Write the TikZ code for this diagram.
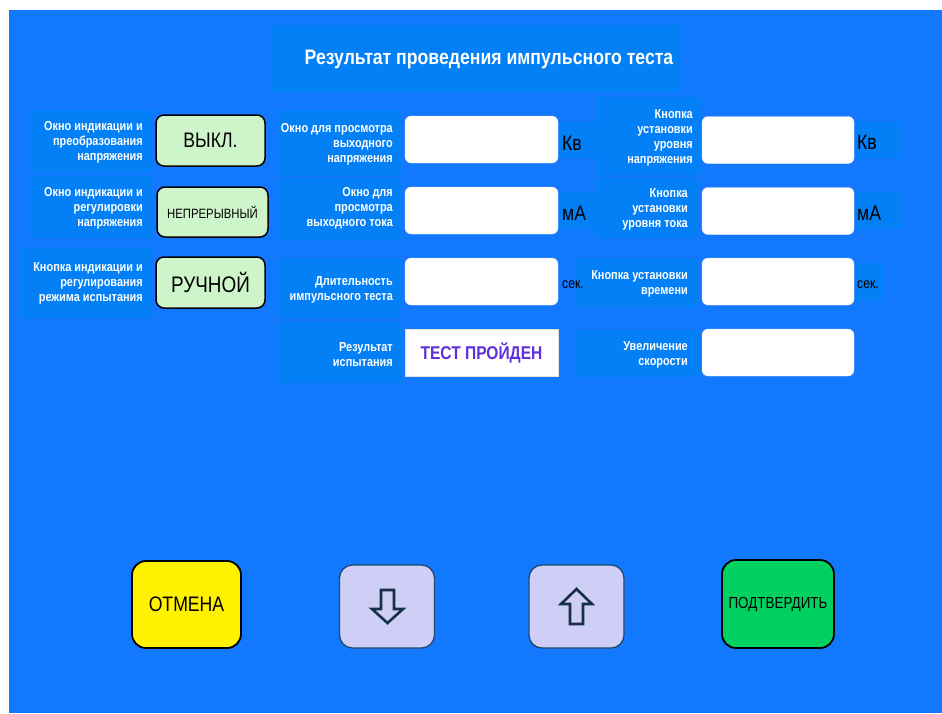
\documentclass[tikz,border=0pt]{standalone}
\usepackage{fontspec}
\setmainfont{Liberation Sans}[FakeStretch=0.84]
\definecolor{panelblue}{RGB}{18,121,255}
\definecolor{boxblue}{RGB}{3,128,246}
\definecolor{lightgreen}{RGB}{206,245,202}
\definecolor{lavender}{RGB}{206,206,246}
\definecolor{navyline}{RGB}{30,72,110}
\definecolor{arrowline}{RGB}{22,48,74}
\definecolor{okgreen}{RGB}{0,209,96}
\definecolor{passpurple}{RGB}{96,48,220}
\newcommand{\fsz}[2]{\fontsize{#1}{#2}\selectfont}
\begin{document}
\begin{tikzpicture}[x=1pt,y=-1pt,
  lbox/.style={fill=boxblue, draw=none, inner sep=0pt},
  lbl/.style={text=white, font=\bfseries\fsz{13}{15}, align=right, anchor=east, inner sep=0pt},
  wbox/.style={fill=white, draw=white!88!black, line width=0.4pt, rounded corners=6pt, inner sep=0pt, minimum width=153pt, minimum height=47pt},
  gbtn/.style={fill=lightgreen, draw=black, line width=1.5pt, rounded corners=8pt, inner sep=0pt},
  unit/.style={anchor=west, inner sep=0pt, text=black},
  bigbtn/.style={draw=black, line width=1.8pt, rounded corners=14pt, inner sep=0pt},
  arrbtn/.style={fill=lavender, draw=navyline, line width=1.3pt, rounded corners=13pt, inner sep=0pt, minimum width=95pt, minimum height=83pt},
  arrshape/.style={fill=lavender, draw=arrowline, line width=2.6pt, line join=miter}
]
\useasboundingbox (0,0) rectangle (942,713);
\fill[white] (0,0) rectangle (942,713);
\fill[panelblue] (9,10) rectangle (942,713);

% title
\node[lbox, minimum width=410pt, minimum height=67pt] (titlebox) at (477,58.5) {};
\node[text=white, font=\bfseries\fsz{21}{24}, inner sep=0pt] (title) at (489,59) {Результат проведения импульсного теста};

% left column
\node[lbox, minimum width=122pt, minimum height=63pt] (l1) at (91,141.5) {};
\node[lbl] (l1t) at (143,142) {Окно индикации и\\преобразования\\напряжения};
\node[lbox, minimum width=122pt, minimum height=62pt] (l2) at (91,207) {};
\node[lbl] (l2t) at (143,208) {Окно индикации и\\регулировки\\напряжения};
\node[lbox, minimum width=132pt, minimum height=70pt] (l3) at (86,283) {};
\node[lbl] (l3t) at (143,283) {Кнопка индикации и\\регулирования\\режима испытания};

\node[gbtn, minimum width=109pt, minimum height=51pt, font=\fsz{21}{24}] (g1) at (210.5,140.5) {ВЫКЛ.};
\node[gbtn, minimum width=111pt, minimum height=50pt, font=\fsz{13.5}{16}] (g2) at (212.5,212) {НЕПРЕРЫВНЫЙ};
\node[gbtn, minimum width=109pt, minimum height=51pt, font=\fsz{22.5}{26}] (g3) at (210.5,282.5) {РУЧНОЙ};

% middle column
\node[lbox, minimum width=124pt, minimum height=66pt] (m1) at (340,143) {};
\node[lbl] (m1t) at (393,144) {Окно для просмотра\\выходного\\напряжения};
\node[lbox, minimum width=124pt, minimum height=62pt] (m2) at (340,209) {};
\node[lbl] (m2t) at (393,208) {Окно для\\просмотра\\выходного тока};
\node[lbox, minimum width=124pt, minimum height=60pt] (m3) at (340,288) {};
\node[lbl] (m3t) at (393,289.5) {Длительность\\импульсного теста};
\node[lbox, minimum width=124pt, minimum height=61pt] (m4) at (340,352.5) {};
\node[lbl] (m4t) at (393,354.5) {Результат\\испытания};

\node[lbox, minimum width=37pt, minimum height=36pt] (mu1) at (576.5,140) {};
\node[lbox, minimum width=37pt, minimum height=37pt] (mu2) at (576.5,210.5) {};

\node[wbox] (w1) at (481.5,139.5) {};
\node[wbox] (w2) at (481.5,210.5) {};
\node[wbox] (w3) at (481.5,281.5) {};
\node[fill=white, draw=white!88!black, line width=0.4pt, inner sep=0pt, minimum width=153pt, minimum height=47pt, text=passpurple, font=\bfseries\fsz{18.5}{22}] (w4) at (481.5,352.5) {ТЕСТ ПРОЙДЕН};

% right column
\node[lbox, minimum width=107pt, minimum height=78pt] (r1) at (648.5,136) {};
\node[lbl] (r1t) at (693,138) {Кнопка\\установки\\уровня\\напряжения};
\node[lbox, minimum width=102pt, minimum height=60pt] (r2) at (646,208) {};
\node[lbl] (r2t) at (688,209.5) {Кнопка\\установки\\уровня тока};
\node[lbox, minimum width=123pt, minimum height=49pt] (r3) at (636.5,282.5) {};
\node[lbl] (r3t) at (688,283.5) {Кнопка установки\\времени};
\node[lbox, minimum width=125pt, minimum height=47pt] (r4) at (637.5,353.5) {};
\node[lbl] (r4t) at (688,355) {Увеличение\\скорости};

\node[wbox, minimum width=152pt] (x1) at (778,140) {};
\node[wbox, minimum width=152pt] (x2) at (778,211) {};
\node[wbox, minimum width=152pt] (x3) at (778,281.5) {};
\node[wbox, minimum width=152pt] (x4) at (778,352.5) {};

\node[lbox, minimum width=46pt, minimum height=36pt] (u1) at (878,140) {};
\node[lbox, minimum width=46pt, minimum height=37pt] (u2) at (878,210.5) {};
\node[lbox, minimum width=29pt, minimum height=38pt] (u3) at (869.5,282) {};

% unit texts
\node[unit, font=\fsz{21}{22}] (mu1t) at (562,143) {Кв};
\node[unit, font=\fsz{21}{22}] (mu2t) at (562,213) {мА};
\node[unit, font=\fsz{14.5}{16}] (mu3t) at (562,285) {сек.};
\node[unit, font=\fsz{21}{22}] (u1t) at (857,142) {Кв};
\node[unit, font=\fsz{21}{22}] (u2t) at (857,213) {мА};
\node[unit, font=\fsz{14.5}{16}] (u3t) at (857,285) {сек.};

% bottom buttons
\node[bigbtn, fill=yellow, minimum width=109pt, minimum height=87pt, font=\fsz{21}{24}] (cancel) at (186.5,604.5) {ОТМЕНА};
\node[arrbtn] (down) at (387,606.5) {};
\node[arrbtn] (up) at (576.5,606.5) {};
\node[bigbtn, fill=okgreen, minimum width=112pt, minimum height=88pt, font=\fsz{16}{19}] (confirm) at (778,604) {ПОДТВЕРДИТЬ};

\draw[arrshape] (381,590) -- (394,590) -- (394,609) -- (403,609) -- (387.5,623) -- (372,609) -- (381,609) -- cycle;
\draw[arrshape] (576.5,589) -- (592,604) -- (583,604) -- (583,624) -- (570,624) -- (570,604) -- (561,604) -- cycle;
\end{tikzpicture}
\end{document}
